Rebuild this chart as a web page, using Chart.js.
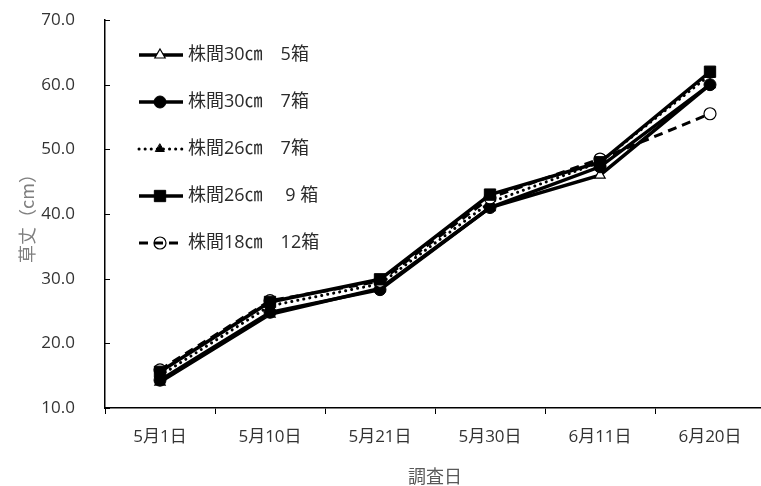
<!DOCTYPE html>
<html lang="ja">
<head>
<meta charset="utf-8">
<script src="https://cdn.jsdelivr.net/npm/chart.js@4/dist/chart.umd.min.js"></script>
<style>
  html, body { margin: 0; padding: 0; background: #fff; overflow: hidden; }
  #wrap { width: 765px; height: 486px; }
</style>
</head>
<body>
<div id="wrap"><canvas id="c" width="765" height="486"></canvas></div>
<script>
// 調査日
const dates = ['5月1日', '5月10日', '5月21日', '5月30日', '6月11日', '6月20日'];
// 草丈 (cm)
const s30cm5 = [14.0, 24.5, 28.5, 41.0, 46.0, 60.0];
const s30cm7 = [14.3, 24.8, 28.3, 41.0, 47.3, 60.0];
const s26cm7 = [15.0, 25.8, 29.2, 41.8, 48.0, 61.5];
const s26cm9 = [15.6, 26.4, 29.9, 43.0, 48.0, 62.0];
const s18cm12 = [15.9, 26.6, 29.6, 42.5, 48.5, 55.5];
const seriesNames = ['株間30㎝　5箱', '株間30㎝　7箱', '株間26㎝　7箱', '株間26㎝　 9 箱', '株間18㎝　12箱'];
const yTicks = { min: 10, max: 70, step: 10 };

const FONT = "'Noto Sans CJK JP', 'Noto Sans', sans-serif";
const NUMFONT = "'Open Sans', 'Noto Sans CJK JP', sans-serif";
const BLACK = '#000';

const datasets = [
  { label: seriesNames[0], data: s30cm5, borderColor: BLACK, borderWidth: 3.5, pointStyle: 'triangle',
    pointRadius: 6, pointBackgroundColor: '#fff', pointBorderColor: BLACK, pointBorderWidth: 1.2, order: 5 },
  { label: seriesNames[1], data: s30cm7, borderColor: BLACK, borderWidth: 3.5, pointStyle: 'circle',
    pointRadius: 6, pointBackgroundColor: BLACK, pointBorderColor: BLACK, pointBorderWidth: 1, order: 4 },
  { label: seriesNames[2], data: s26cm7, borderColor: BLACK, borderWidth: 3, borderDash: [0.1, 6],
    borderCapStyle: 'round', pointStyle: 'triangle', pointRadius: 5, pointBackgroundColor: BLACK,
    pointBorderColor: BLACK, pointBorderWidth: 1, order: 3 },
  { label: seriesNames[3], data: s26cm9, borderColor: BLACK, borderWidth: 3.5, pointStyle: 'rect',
    pointRadius: 8, pointBackgroundColor: BLACK, pointBorderColor: BLACK, pointBorderWidth: 1, order: 1 },
  { label: seriesNames[4], data: s18cm12, borderColor: BLACK, borderWidth: 3, borderDash: [9, 6],
    pointStyle: 'circle', pointRadius: 6, pointBackgroundColor: '#fff', pointBorderColor: BLACK,
    pointBorderWidth: 1.2, order: 2, legendFill: 'rgba(0,0,0,0)' }
];
datasets.forEach(d => { d.tension = 0; d.fill = false; d.pointHoverRadius = d.pointRadius; });

// Legend drawn inside the plot area, one row per series
const insideLegend = {
  id: 'insideLegend',
  afterDraw(chart) {
    const ctx = chart.ctx;
    const rows = [55, 102, 149, 196, 243];
    chart.data.datasets.forEach((ds, i) => {
      const y = rows[i];
      ctx.save();
      ctx.strokeStyle = ds.borderColor;
      ctx.lineWidth = ds.borderWidth;
      ctx.lineCap = ds.borderCapStyle || 'butt';
      ctx.setLineDash(ds.borderDash || []);
      ctx.beginPath();
      ctx.moveTo(139, y);
      ctx.lineTo(183, y);
      ctx.stroke();
      ctx.setLineDash([]);
      ctx.fillStyle = ds.legendFill || ds.pointBackgroundColor;
      ctx.strokeStyle = ds.pointBorderColor;
      ctx.lineWidth = ds.pointBorderWidth;
      Chart.helpers.drawPoint(ctx, { pointStyle: ds.pointStyle, radius: ds.pointRadius, borderWidth: ds.pointBorderWidth }, 160, y);
      ctx.fillStyle = '#2b2b2b';
      ctx.font = '18px ' + NUMFONT;
      ctx.textBaseline = 'middle';
      ctx.textAlign = 'left';
      ctx.fillText(ds.label, 188, y);
      ctx.restore();
    });
  }
};

// Inward tick marks on the value axis
const innerTicks = {
  id: 'innerTicks',
  afterDraw(chart) {
    const y = chart.scales.y;
    const left = chart.chartArea.left;
    const ctx = chart.ctx;
    ctx.save();
    ctx.strokeStyle = BLACK;
    ctx.lineWidth = 1;
    y.ticks.forEach(t => {
      const py = Math.round(y.getPixelForValue(t.value)) + 0.5;
      ctx.beginPath();
      ctx.moveTo(left, py);
      ctx.lineTo(left + 5, py);
      ctx.stroke();
    });
    ctx.restore();
  }
};

new Chart(document.getElementById('c'), {
  type: 'line',
  data: { labels: dates, datasets },
  plugins: [insideLegend, innerTicks],
  options: {
    responsive: false,
    animation: false,
    layout: { autoPadding: false, padding: { top: 20, right: 0, left: 0, bottom: 0 } },
    plugins: { legend: { display: false }, tooltip: { enabled: false } },
    scales: {
      x: {
        offset: true,
        grid: { display: true, offset: true, drawOnChartArea: false, drawTicks: true, tickLength: 6, color: BLACK },
        border: { display: true, color: BLACK, width: 1.5 },
        ticks: { color: '#333', font: { family: NUMFONT, size: 17 }, padding: 13, maxRotation: 0 },
        title: { display: true, text: '調査日', color: '#595959', font: { family: FONT, size: 18 }, padding: { top: 14, bottom: -1 } },
        afterFit(s) { s.height = 78; }
      },
      y: {
        min: yTicks.min, max: yTicks.max,
        grid: { display: false },
        border: { display: true, color: BLACK, width: 1.5 },
        ticks: { stepSize: yTicks.step, color: '#333', font: { family: NUMFONT, size: 17 }, padding: 22,
                 callback: v => Number(v).toFixed(1) },
        title: { display: true, text: '草丈（cm）', color: '#7f7f7f', font: { family: FONT, size: 18 }, padding: { top: 16, bottom: 0 } },
        afterFit(s) { s.width = 105; s.paddingTop = 0; s.paddingBottom = 0; }
      }
    }
  }
});
</script>
</body>
</html>
